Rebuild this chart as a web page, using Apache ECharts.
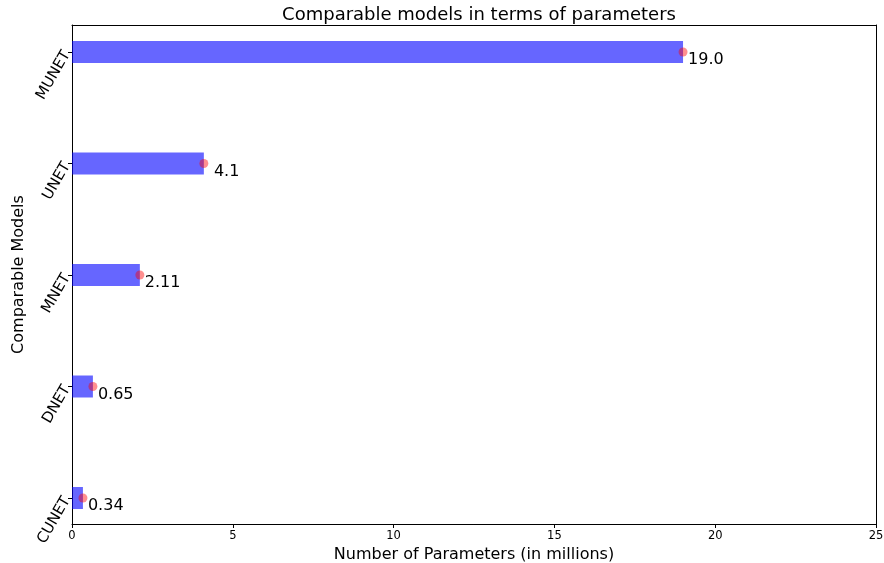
<!DOCTYPE html>
<html>
<head>
<meta charset="utf-8">
<script src="https://cdn.jsdelivr.net/npm/echarts@6/dist/echarts.min.js"></script>
<style>html,body{margin:0;padding:0;background:#fff}#c{width:884px;height:563px}</style>
</head>
<body>
<div id="c"></div>
<script>
const categories = ['CUNET', 'DNET', 'MNET', 'UNET', 'MUNET'];
const params = [0.34, 0.65, 2.11, 4.1, 19.0];
const valueLabels = ['0.34', '0.65', '2.11', ' 4.1', '19.0'];
const xTicks = [0, 5, 10, 15, 20, 25];

const FONT = 'DejaVu Sans';
const chart = echarts.init(document.getElementById('c'), null, {renderer: 'canvas'});
const black = '#000';
const frameLine = {show: true, onZero: false, lineStyle: {color: black, width: 1}};
chart.setOption({
  animation: false,
  backgroundColor: '#fff',
  textStyle: {fontFamily: FONT},
  title: {
    text: 'Comparable models in terms of parameters',
    left: 474, top: 1, textAlign: 'center',
    textStyle: {fontFamily: FONT, fontSize: 18, fontWeight: 'normal', color: black}
  },
  grid: [
    {left: 72, right: 8, top: 25, bottom: 39, containLabel: false, outerBoundsMode: 'none'},
    {left: 72, right: 8, top: 52, bottom: 65, containLabel: false, outerBoundsMode: 'none'}
  ],
  xAxis: [
    {type: 'value', gridIndex: 0, min: xTicks[0], max: xTicks[xTicks.length - 1], interval: 5,
     splitLine: {show: false},
     axisLine: frameLine,
     axisTick: {show: true, length: 4, lineStyle: {color: black}},
     axisLabel: {fontSize: 11.5, color: black, margin: 6, fontFamily: FONT, hideOverlap: false},
     name: 'Number of Parameters (in millions)', nameLocation: 'middle', nameGap: 23,
     nameTextStyle: {fontSize: 16, color: black, fontFamily: FONT}},
    {type: 'value', gridIndex: 0, position: 'top', min: 0, max: 25,
     splitLine: {show: false}, axisTick: {show: false}, axisLabel: {show: false},
     axisLine: frameLine},
    {type: 'value', gridIndex: 1, min: xTicks[0], max: xTicks[xTicks.length - 1], show: false}
  ],
  yAxis: [
    {type: 'value', gridIndex: 0, min: 0, max: 1, splitLine: {show: false},
     axisTick: {show: false}, axisLabel: {show: false},
     axisLine: frameLine,
     name: 'Comparable Models', nameLocation: 'middle', nameGap: 45,
     nameTextStyle: {fontSize: 16, color: black, fontFamily: FONT}},
    {type: 'value', gridIndex: 0, position: 'right', min: 0, max: 1, splitLine: {show: false},
     axisTick: {show: false}, axisLabel: {show: false},
     axisLine: frameLine},
    {type: 'category', gridIndex: 1, data: categories, boundaryGap: false,
     axisLine: {show: false},
     axisTick: {show: true, length: 4, lineStyle: {color: black}},
     axisLabel: {rotate: 60, fontSize: 15, color: black, margin: 5, fontFamily: FONT}}
  ],
  series: [
    {type: 'bar', xAxisIndex: 2, yAxisIndex: 2, data: params, barWidth: 22,
     itemStyle: {color: 'rgba(0,0,255,0.6)'},
     label: {show: true, position: 'right', distance: 5, offset: [0, 8],
       fontSize: 16, color: black, fontFamily: FONT,
       formatter: p => valueLabels[p.dataIndex]}},
    {type: 'scatter', xAxisIndex: 2, yAxisIndex: 2, data: params.map((v, i) => [v, categories[i]]),
     symbolSize: 9, z: 5, itemStyle: {color: 'rgba(255,0,0,0.55)'}}
  ]
});
</script>
</body>
</html>
